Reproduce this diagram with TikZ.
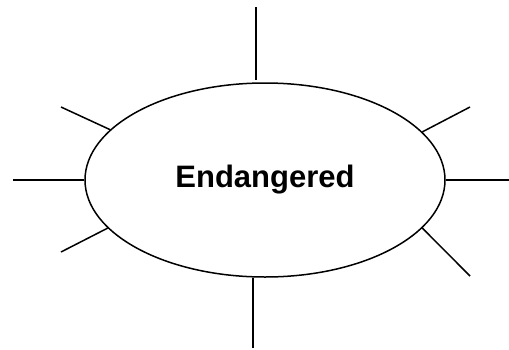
\documentclass[tikz,border=0pt]{standalone}
\usepackage{fontspec}
\setmainfont{Liberation Sans}
\usetikzlibrary{shapes.geometric}

\begin{document}
\begin{tikzpicture}[x=1pt,y=-1pt,line width=1.5pt,
                    every node/.style={font=\fontsize{31}{37}\selectfont\bfseries}]
                  \useasboundingbox (0,0) rectangle (509,349);
                  \node[draw,ellipse,inner sep=0pt,minimum width=360pt,minimum height=194pt] (E) at (265,180) {Endangered};
                  \coordinate (up) at (256,7);
                  \coordinate (dn) at (253,348);
                  \coordinate (lf) at (13,180);
                  \coordinate (rt) at (509,180);
                  \coordinate (ul) at (61,107);
                  \coordinate (ll) at (61,252);
                  \coordinate (ur) at (470,107);
                  \coordinate (lr) at (470,276);
                                      \draw (up) -- ([yshift=2pt]up |- E.north);
                                        \draw (dn) -- (dn |- E.south);
                                            \draw (lf) -- (E.west);
                                              \draw (rt) -- (E.east);
                                      \draw (ul) -- (E.162.7);
                                        \draw (ll) -- (E.197.3);
                                            \draw (ur) -- (E.17);
                                              \draw (lr) -- (E.-17);
        \end{tikzpicture}
\end{document}
